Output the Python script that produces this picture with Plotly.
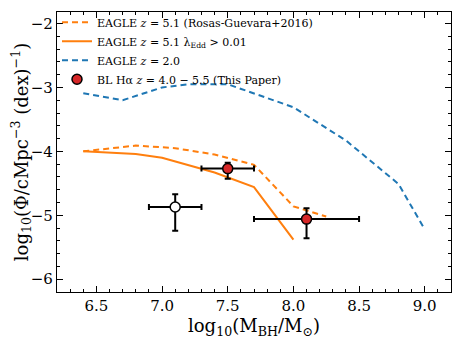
import plotly.graph_objects as go

# EAGLE z=2.0 (blue dashed)
eagle_z2_x = [6.4, 6.7, 7.0, 7.2, 7.5, 7.7, 8.0, 8.4, 8.8, 9.0]
eagle_z2_y = [-3.09, -3.2, -3.0, -2.95, -2.95, -3.09, -3.31, -3.83, -4.51, -5.22]

# EAGLE z=5.1 Rosas-Guevara+2016 (orange dashed)
eagle_z5_x = [6.4, 6.8, 7.1, 7.4, 7.7, 8.0, 8.25]
eagle_z5_y = [-4.0, -3.91, -3.95, -4.05, -4.21, -4.86, -5.02]

# EAGLE z=5.1 lambda_Edd > 0.01 (orange solid)
eagle_edd_x = [6.4, 6.8, 7.0, 7.4, 7.7, 8.0]
eagle_edd_y = [-4.0, -4.04, -4.1, -4.33, -4.56, -5.38]

# This paper: BL Halpha (filled)
bl_x = [7.5, 8.1]
bl_y = [-4.27, -5.06]
bl_xerr = [0.2, 0.4]
bl_yerr_plus = [0.09, 0.17]
bl_yerr_minus = [0.16, 0.30]

# Open point
open_x = [7.1]
open_y = [-4.87]
open_xerr = [0.2]
open_yerr_plus = [0.2]
open_yerr_minus = [0.37]

ORANGE = "#ff7f0e"
BLUE = "#1f77b4"
FONT = "DejaVu Serif"

fig = go.Figure()
fig.add_trace(go.Scatter(x=eagle_z5_x, y=eagle_z5_y, mode="lines",
                         line=dict(color=ORANGE, width=2, dash="6px,4px"),
                         name="EAGLE <i>z</i> = 5.1 (Rosas-Guevara+2016)"))
fig.add_trace(go.Scatter(x=eagle_edd_x, y=eagle_edd_y, mode="lines",
                         line=dict(color=ORANGE, width=2),
                         name="EAGLE <i>z</i> = 5.1 λ<sub>Edd</sub> > 0.01"))
fig.add_trace(go.Scatter(x=eagle_z2_x, y=eagle_z2_y, mode="lines",
                         line=dict(color=BLUE, width=2, dash="6px,4px"),
                         name="EAGLE <i>z</i> = 2.0"))
fig.add_trace(go.Scatter(x=open_x, y=open_y, mode="markers",
                         marker=dict(color="white", size=10, line=dict(color="black", width=1.5)),
                         error_x=dict(type="data", array=open_xerr, color="black", thickness=2, width=3),
                         error_y=dict(type="data", array=open_yerr_plus, arrayminus=open_yerr_minus,
                                      color="black", thickness=2, width=3),
                         showlegend=False))
fig.add_trace(go.Scatter(x=bl_x, y=bl_y, mode="markers",
                         marker=dict(color="#d62728", size=10, line=dict(color="black", width=1.5)),
                         error_x=dict(type="data", array=bl_xerr, color="black", thickness=2, width=3),
                         error_y=dict(type="data", array=bl_yerr_plus, arrayminus=bl_yerr_minus,
                                      color="black", thickness=2, width=3),
                         name="BL Hα <i>z</i> = 4.0 − 5.5 (This Paper)"))

axis_common = dict(showgrid=False, zeroline=False, showline=True, linecolor="black", linewidth=1.2,
                   mirror="allticks", ticks="inside", ticklen=6, tickwidth=1.2, tickcolor="black",
                   automargin=False,
                   tickfont=dict(family=FONT, size=15, color="black"))

fig.update_xaxes(range=[6.2, 9.2], dtick=0.5, tick0=6.5, tickformat=".1f",
                 minor=dict(ticks="inside", dtick=0.1, ticklen=3, tickcolor="black", tickwidth=1),
                 title=dict(text="log<sub>10</sub>(M<sub>BH</sub>/M<sub>⊙</sub>)",
                            font=dict(family=FONT, size=18, color="black"), standoff=2),
                 **axis_common)
fig.update_yaxes(range=[-6.2, -1.82], dtick=1, tickformat="d",
                 minor=dict(ticks="inside", dtick=0.2, ticklen=3, tickcolor="black", tickwidth=1),
                 title=dict(text="log<sub>10</sub>(Φ/cMpc<sup>−3</sup> (dex)<sup>−1</sup>)",
                            font=dict(family=FONT, size=18, color="black"), standoff=4),
                 **axis_common)

fig.update_layout(width=467, height=332, margin=dict(l=49, r=24, t=4, b=48, autoexpand=False),
                  paper_bgcolor="white", plot_bgcolor="white",
                  font=dict(family=FONT, color="black"),
                  legend=dict(x=0.0, y=1.015, xanchor="left", yanchor="top",
                              bgcolor="rgba(255,255,255,0)", font=dict(family=FONT, size=11, color="black"),
                              tracegroupgap=0, itemwidth=30))

fig.write_html("out.html")
